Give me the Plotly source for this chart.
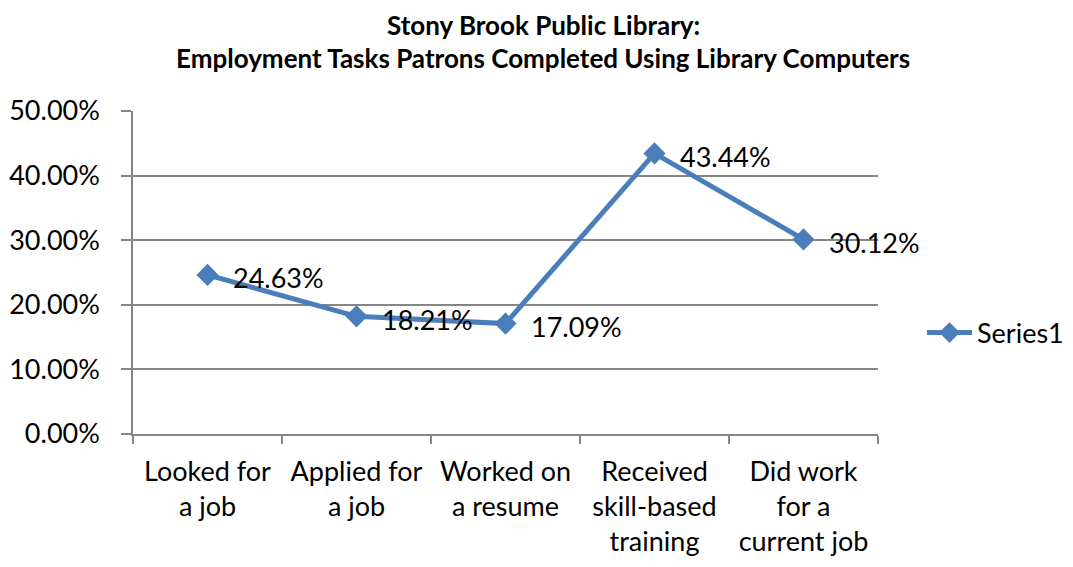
import plotly.graph_objects as go

categories = ["Looked for<br>a job", "Applied for<br>a job", "Worked on<br>a resume",
              "Received<br>skill-based<br>training", "Did work<br>for a<br>current job"]
values = [0.2463, 0.1821, 0.1709, 0.4344, 0.3012]
labels = ["24.63%", "18.21%", "17.09%", "43.44%", "30.12%"]
series_name = "Series1"
y_ticks = [0, 0.1, 0.2, 0.3, 0.4, 0.5]
title_lines = ["Stony Brook Public Library:",
               "Employment Tasks Patrons Completed Using Library Computers"]

FONT = "Lato"
BLUE = "#4A7EBB"
GRID = "#868686"
W, H = 1073, 567
OFF = 8  # page body margin
ML, MT = 133 - OFF, 111 - OFF
PW, PH = 745, 323
MR = W - ML - PW
MB = H - MT - PH

fig = go.Figure()
fig.add_trace(go.Scatter(
    x=categories, y=values, mode="lines+markers", name=series_name,
    line=dict(color=BLUE, width=5),
    marker=dict(symbol="diamond", size=17, color=BLUE),
    cliponaxis=False,
))

annotations = []
for c, v, t in zip(categories, values, labels):
    annotations.append(dict(x=c, y=v, xref="x", yref="y", text=t, showarrow=False,
                            xanchor="left", yanchor="middle", xshift=23, yshift=-3,
                            font=dict(family=FONT, size=27, color="black")))
for line, ypx in zip(title_lines, [25, 58]):
    annotations.append(dict(text=f"<b>{line}</b>", x=(543 - OFF - ML) / PW,
                            y=(H - MB - (ypx - OFF)) / PH, borderpad=0,
                            xref="paper", yref="paper", xanchor="center", yanchor="middle",
                            showarrow=False, font=dict(family=FONT, size=26, color="black")))

fig.update_layout(
    width=W, height=H,
    margin=dict(l=ML, r=MR, t=MT, b=MB, autoexpand=False),
    paper_bgcolor="white", plot_bgcolor="white",
    font=dict(family=FONT, color="black"),
    showlegend=True,
    legend=dict(xref="container", yref="container", x=914 / W, y=1 - (333 - OFF) / H,
                xanchor="left", yanchor="middle", itemwidth=45,
                font=dict(family=FONT, size=27, color="black"),
                bgcolor="rgba(0,0,0,0)"),
    annotations=annotations,
)

fig.update_xaxes(
    type="category", range=[-0.5, len(categories) - 0.5],
    showgrid=False, showline=True, linecolor=GRID, linewidth=1.5,
    ticks="outside", tickson="boundaries", ticklen=8, tickcolor=GRID, tickwidth=1.5,
    tickfont=dict(family=FONT, size=27, color="black"), ticklabelstandoff=13,
    tickangle=0, automargin=False,
)
fig.update_yaxes(
    range=[0, 0.5], tickvals=y_ticks, tickformat=".2%",
    showgrid=True, gridcolor=GRID, gridwidth=1.5,
    showline=True, linecolor=GRID, linewidth=1.5,
    ticks="outside", ticklen=10, tickcolor=GRID, tickwidth=1.5,
    tickfont=dict(family=FONT, size=27, color="black"), ticklabelstandoff=16,
    zeroline=False, automargin=False,
)

fig.write_html("out.html")
